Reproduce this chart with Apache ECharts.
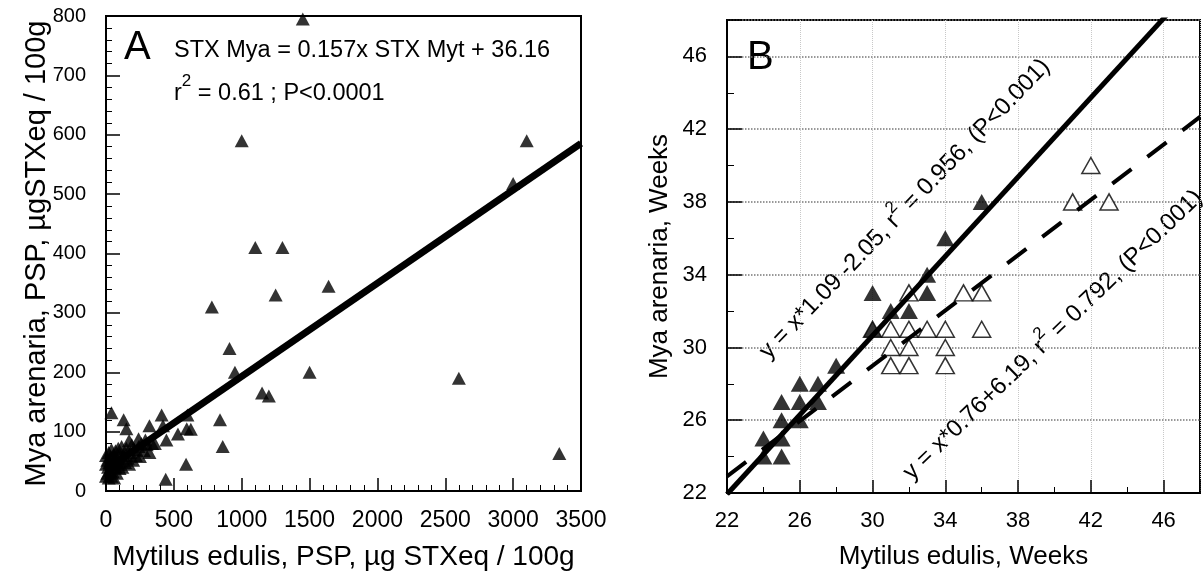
<!DOCTYPE html>
<html><head><meta charset="utf-8">
<script src="https://cdn.jsdelivr.net/npm/echarts@6/dist/echarts.min.js"></script>
<style>html,body{margin:0;padding:0;background:#fff}#c{width:1203px;height:585px}</style>
</head><body><div id="c"></div>
<script>
// ---------- Panel A data (PSP, µg STXeq / 100g) ----------
const aMytilus = [1450,1000,1100,1300,780,1250,1640,910,950,1500,1150,1200,840,860,590,440,3100,3000,2600,3340,
  40,130,150,410,320,420,600,595,625,530,445,360,290,240,170,
  0,0,0,10,10,15,20,20,25,30,35,40,40,45,50,55,60,60,70,70,80,80,90,90,100,100,110,115,120,130,140,150,160,170,180,190,200,210,220,240,250,260,280,300,320,340];
const aMya = [795,590,410,410,310,330,345,240,200,200,165,160,120,75,45,20,590,518,190,63,
  132,120,105,128,110,110,128,105,104,96,86,80,86,88,85,
  25,45,60,30,52,40,22,65,48,35,58,25,70,45,32,60,22,50,40,68,30,55,45,72,38,62,50,75,40,60,48,72,55,45,65,78,52,70,60,75,58,80,68,78,65,80];
const aRegression = [0.157, 36.16];      // slope, intercept
const aXRange = [0, 3500];
const aYRange = [0, 800];

// ---------- Panel B data (weeks) ----------
const bFilledMytilus = [24,25,24,25,25,26,25,26,27,26,27,28,30,31,32,30,33,33,34,36];
const bFilledMya     = [24,24,25,25,26,26,27,27,27,28,28,29,31,32,32,33,33,34,36,38];
const bOpenMytilus   = [30,31,32,33,34,36,31,32,34,31,32,34,32,35,36,41,43,42];
const bOpenMya       = [31,31,31,31,31,31,30,30,30,29,29,29,33,33,33,38,38,40];
const bRegFilled = [1.09, -2.05];
const bRegOpen   = [0.76, 6.19];
const bRange = [22, 48];

const zip = (xs, ys) => xs.map((x, i) => [x, ys[i]]);
const regLine = (r, range) => range.map(x => [x, +(r[0] * x + r[1]).toFixed(3)]);

const FONT = '"Liberation Sans", Arial, Helvetica, sans-serif';
const black = '#000';

const chart = echarts.init(document.getElementById('c'), null, {renderer: 'canvas'});

function axisCommon(extra) {
  return Object.assign({
    type: 'value',
    axisLine: {show: true, lineStyle: {color: black, width: 2}},
    nameLocation: 'middle',
    nameMoveOverlap: false,
  }, extra);
}
const plain = v => String(v);

const supRich = {sup: {fontSize: 17, fontFamily: FONT, fill: black, verticalAlign: 'top', lineHeight: 17}};

const option = {
  backgroundColor: '#fff',
  animation: false,
  grid: [
    {left: 106, top: 16, width: 475, height: 475, show: true, borderColor: black, borderWidth: 2, outerBoundsMode: 'none', containLabel: false},
    {left: 727, top: 20, width: 473, height: 473, show: true, borderColor: black, borderWidth: 2, outerBoundsMode: 'none', containLabel: false}
  ],
  xAxis: [
    axisCommon({
      gridIndex: 0, min: aXRange[0], max: aXRange[1], interval: 500,
      axisTick: {show: true, inside: true, length: 13, lineStyle: {color: black, width: 1.5}},
      minorTick: {show: true, splitNumber: 5, length: 6, lineStyle: {color: black, width: 1}},
      splitLine: {show: false},
      axisLabel: {color: black, fontFamily: FONT, fontSize: 23, margin: 18, formatter: plain},
      name: 'Mytilus edulis, PSP, µg STXeq / 100g', nameGap: 52,
      nameTextStyle: {color: black, fontFamily: FONT, fontSize: 28}
    }),
    axisCommon({
      gridIndex: 1, min: bRange[0], max: bRange[1], interval: 4,
      axisTick: {show: true, inside: true, length: 13, lineStyle: {color: black, width: 1.5}},
      minorTick: {show: true, splitNumber: 2, length: 6, lineStyle: {color: black, width: 1}},
      splitLine: {show: true, lineStyle: {color: '#c8c8c8', type: 'dotted', width: 1}},
      axisLabel: {color: black, fontFamily: FONT, fontSize: 22, margin: 17, showMaxLabel: false, formatter: plain},
      name: 'Mytilus edulis, Weeks', nameGap: 51,
      nameTextStyle: {color: black, fontFamily: FONT, fontSize: 26}
    })
  ],
  yAxis: [
    axisCommon({
      gridIndex: 0, min: aYRange[0], max: aYRange[1], interval: 100,
      axisTick: {show: true, inside: true, length: 14, lineStyle: {color: black, width: 1.5}},
      minorTick: {show: true, splitNumber: 5, length: 6, lineStyle: {color: black, width: 1}},
      splitLine: {show: false},
      axisLabel: {color: black, fontFamily: FONT, fontSize: 20, margin: 20, formatter: plain},
      name: 'Mya arenaria, PSP, µgSTXeq / 100g', nameGap: 55,
      nameTextStyle: {color: black, fontFamily: FONT, fontSize: 29}
    }),
    axisCommon({
      gridIndex: 1, min: bRange[0], max: bRange[1], interval: 4,
      axisTick: {show: true, inside: true, length: 15, lineStyle: {color: black, width: 1.5}},
      minorTick: {show: true, splitNumber: 2, length: 7, lineStyle: {color: black, width: 1}},
      splitLine: {show: true, lineStyle: {color: '#777', type: 'dotted', width: 1.5}},
      axisLabel: {color: black, fontFamily: FONT, fontSize: 22, margin: 20, showMaxLabel: false, formatter: plain},
      name: 'Mya arenaria, Weeks', nameGap: 54,
      nameTextStyle: {color: black, fontFamily: FONT, fontSize: 26}
    })
  ],
  series: [
    {
      type: 'scatter', xAxisIndex: 0, yAxisIndex: 0, z: 2,
      data: zip(aMytilus, aMya), symbol: 'triangle', symbolSize: [14, 13],
      itemStyle: {color: black}, clip: false
    },
    {
      type: 'line', xAxisIndex: 0, yAxisIndex: 0, z: 3,
      data: regLine(aRegression, aXRange), symbol: 'none',
      lineStyle: {color: black, width: 7}, clip: true
    },
    {
      type: 'scatter', xAxisIndex: 1, yAxisIndex: 1, z: 2,
      data: zip(bOpenMytilus, bOpenMya), symbol: 'triangle', symbolSize: [18, 16],
      itemStyle: {color: '#fff', borderColor: black, borderWidth: 1.5}
    },
    {
      type: 'scatter', xAxisIndex: 1, yAxisIndex: 1, z: 2,
      data: zip(bFilledMytilus, bFilledMya), symbol: 'triangle', symbolSize: [18, 16],
      itemStyle: {color: black}
    },
    {
      type: 'line', xAxisIndex: 1, yAxisIndex: 1, z: 3,
      data: regLine(bRegFilled, bRange), symbol: 'none',
      lineStyle: {color: black, width: 5}, clip: true
    },
    {
      type: 'line', xAxisIndex: 1, yAxisIndex: 1, z: 3,
      data: regLine(bRegOpen, bRange), symbol: 'none',
      lineStyle: {color: black, width: 4, type: [24, 20]}, clip: true
    }
  ],
  graphic: [
    {type: 'text', left: 124, top: 28, style: {text: 'A', font: '40px ' + FONT, fill: black}},
    {type: 'text', x: 174, y: 51, style: {text: 'STX Mya = 0.157x STX Myt + 36.16', font: '23.5px ' + FONT, fill: black, verticalAlign: 'middle'}},
    {type: 'text', x: 174, y: 94, style: {
      text: 'r{sup|2} = 0.61 ; P<0.0001', font: '23.5px ' + FONT, fill: black, verticalAlign: 'middle', lineHeight: 42,
      rich: supRich
    }},
    {type: 'text', left: 747, top: 38, style: {text: 'B', font: '40px ' + FONT, fill: black}},
    {type: 'text', x: 905, y: 209, rotation: 46 * Math.PI / 180, style: {
      text: 'y = x*1.09 -2.05, r{sup|2} = 0.956, (P<0.001)', font: '24px ' + FONT, fill: black,
      align: 'center', verticalAlign: 'middle', lineHeight: 38,
      rich: supRich
    }},
    {type: 'text', x: 1053, y: 335, rotation: 44 * Math.PI / 180, style: {
      text: 'y = x*0.76+6.19, r{sup|2} = 0.792, (P<0.001)', font: '24px ' + FONT, fill: black,
      align: 'center', verticalAlign: 'middle', lineHeight: 38,
      rich: supRich
    }}
  ]
};
chart.setOption(option);
</script>
</body></html>
